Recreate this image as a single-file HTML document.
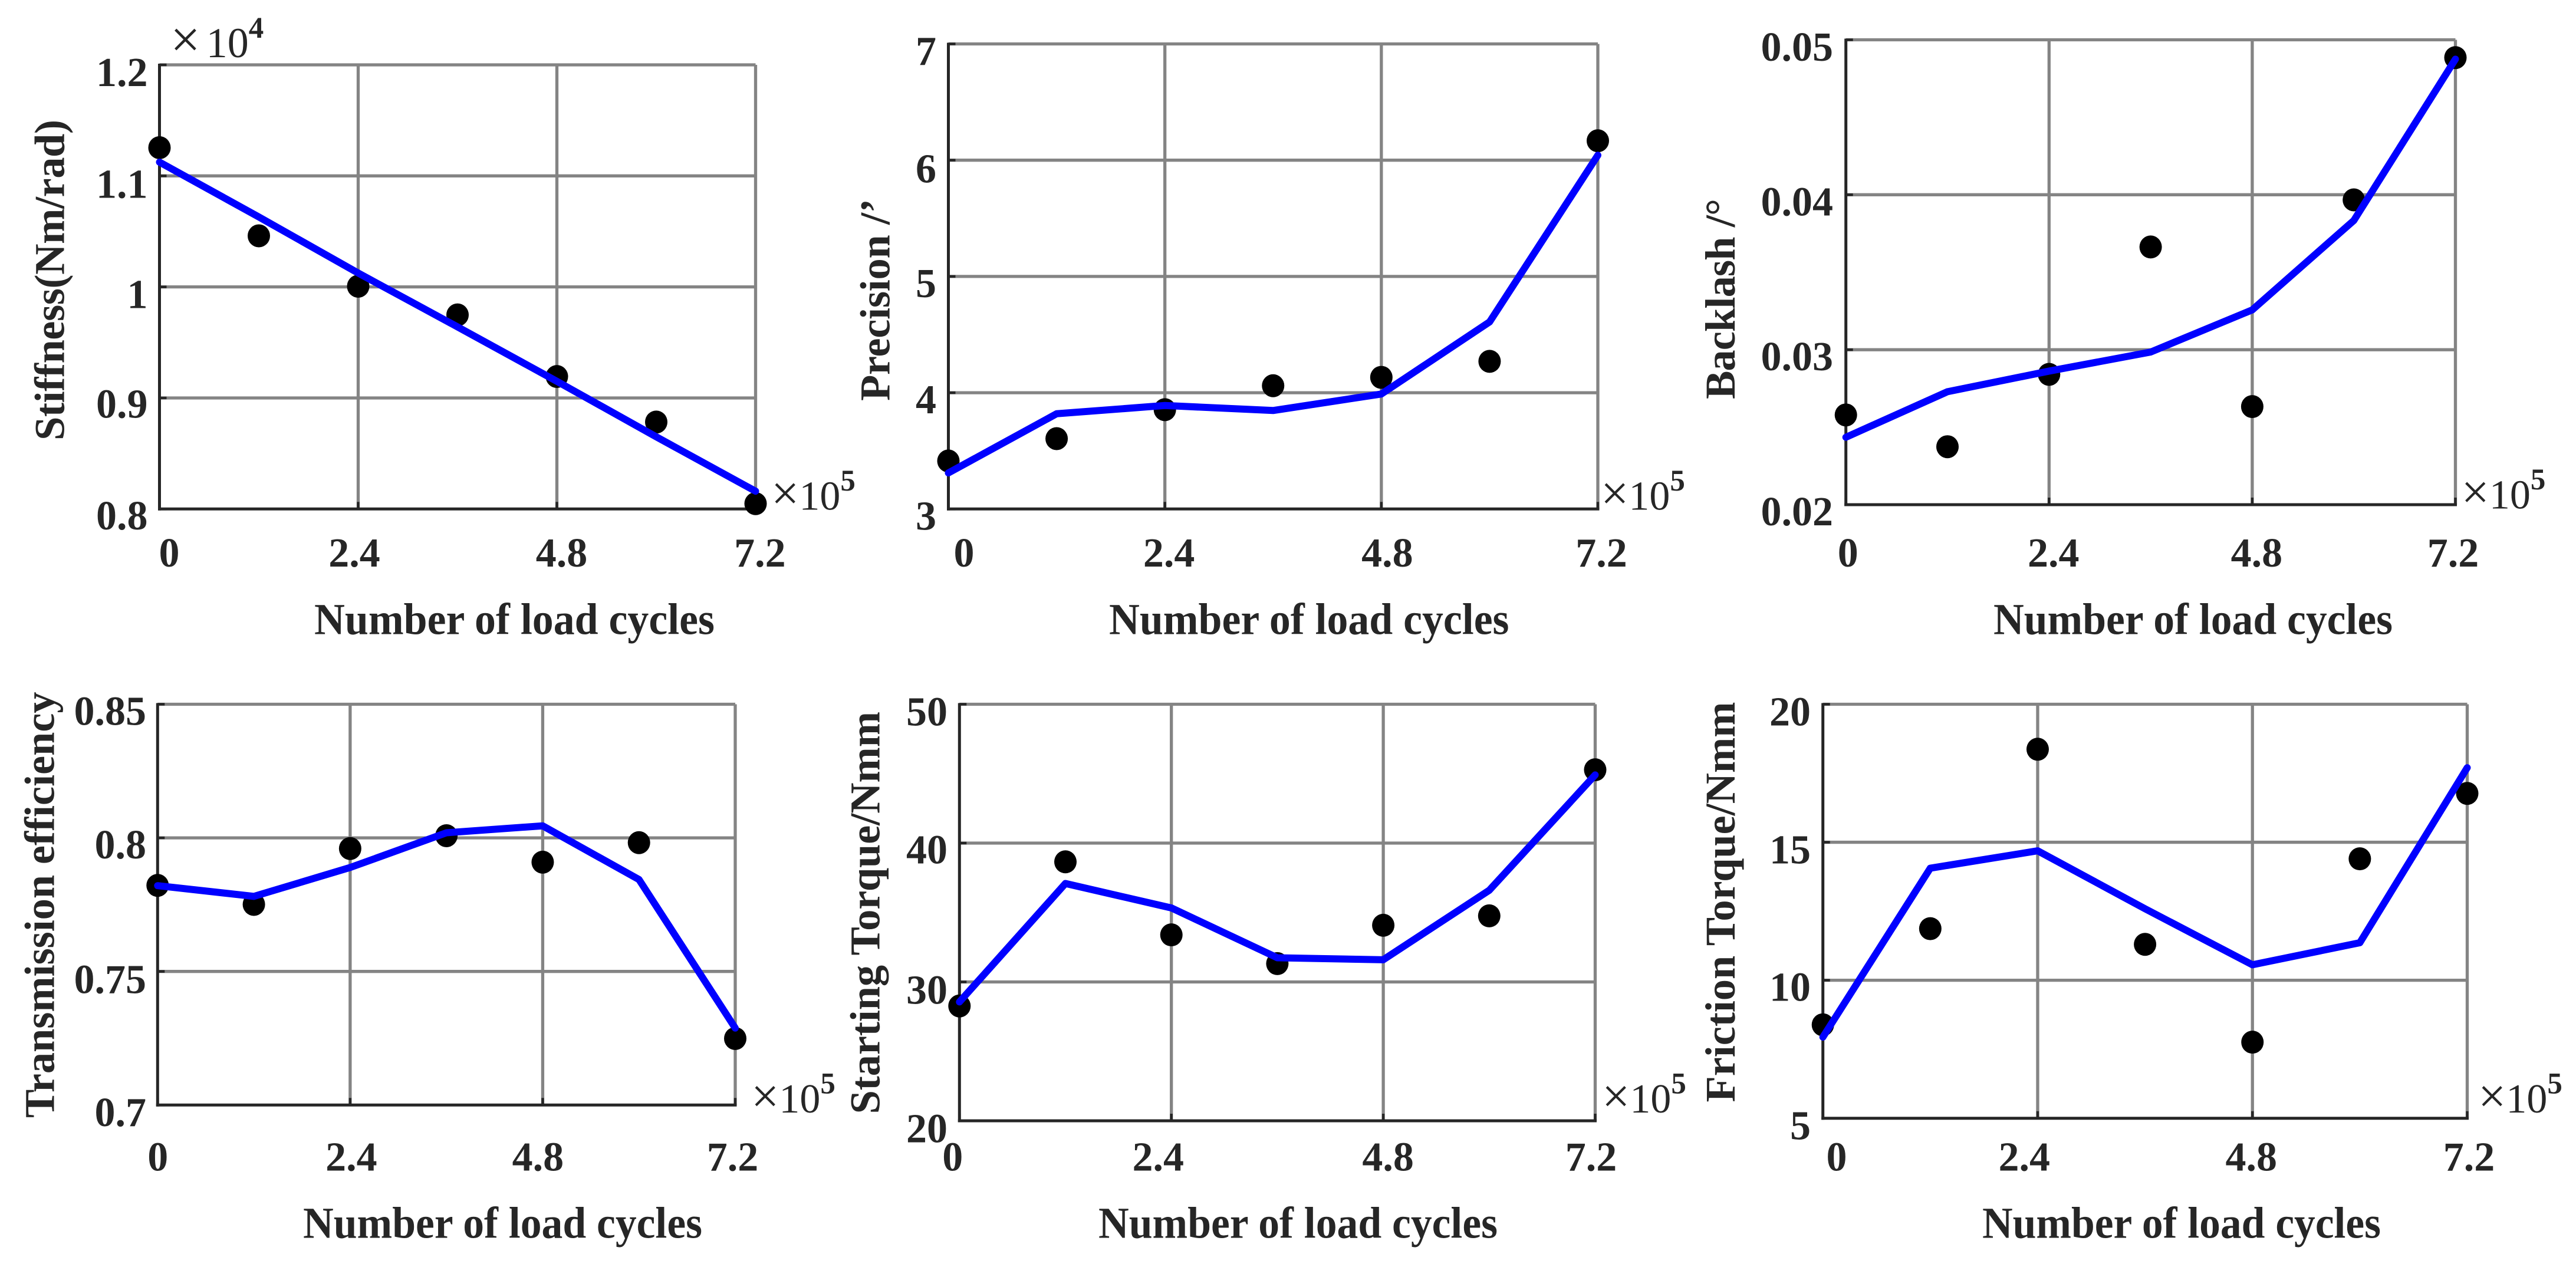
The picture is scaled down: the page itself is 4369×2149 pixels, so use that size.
<!DOCTYPE html>
<html lang="en">
<head>
<meta charset="utf-8">
<title>Performance degradation versus number of load cycles</title>
<style>
  html, body { margin: 0; padding: 0; background: #fff; }
  svg { display: block; }
  text { font-family: "Liberation Serif", serif; fill: #262626; }
  .bold { font-weight: bold; }
</style>
</head>
<body>
<svg id="chart" xmlns="http://www.w3.org/2000/svg" width="4369" height="2149" viewBox="0 0 4369 2149"></svg>
<script>
// ---- shared data (x axis in units of 10^5 cycles) ----
const cycles = [0, 1.2, 2.4, 3.6, 4.8, 6, 7.2];
const xTicks = [0, 2.4, 4.8, 7.2];
const xTickLabels = ['0', '2.4', '4.8', '7.2'];

// ---- per-chart measured points, fitted curves and ticks ----
const stiffnessPoints = [1.1254, 1.046, 1.0006, 0.9748, 0.9193, 0.8783, 0.8048];
const stiffnessFit = [1.1124, 1.063, 1.0125, 0.964, 0.915, 0.865, 0.816];
const stiffnessTicks = [0.8, 0.9, 1, 1.1, 1.2];
const stiffnessTickLabels = ['0.8', '0.9', '1', '1.1', '1.2'];

const precisionPoints = [3.413, 3.605, 3.854, 4.06, 4.132, 4.27, 6.167];
const precisionFit = [3.31, 3.819, 3.89, 3.847, 3.989, 4.609, 6.043];
const precisionTicks = [3, 4, 5, 6, 7];
const precisionTickLabels = ['3', '4', '5', '6', '7'];

const backlashPoints = [0.02579, 0.02374, 0.02841, 0.03663, 0.02633, 0.03967, 0.04885];
const backlashFit = [0.02435, 0.02729, 0.02862, 0.02985, 0.03257, 0.03834, 0.04875];
const backlashTicks = [0.02, 0.03, 0.04, 0.05];
const backlashTickLabels = ['0.02', '0.03', '0.04', '0.05'];

const efficiencyPoints = [0.7822, 0.7751, 0.796, 0.8008, 0.7909, 0.7982, 0.7249];
const efficiencyFit = [0.7821, 0.7781, 0.7889, 0.8019, 0.8045, 0.7844, 0.7288];
const efficiencyTicks = [0.7, 0.75, 0.8, 0.85];
const efficiencyTickLabels = ['0.7', '0.75', '0.8', '0.85'];

const startingPoints = [28.27, 38.65, 33.39, 31.32, 34.08, 34.76, 45.28];
const startingFit = [28.56, 37.09, 35.33, 31.74, 31.6, 36.6, 44.91];
const startingTicks = [20, 30, 40, 50];
const startingTickLabels = ['20', '30', '40', '50'];

const frictionPoints = [8.386, 11.87, 18.37, 11.3, 7.757, 14.4, 16.77];
const frictionFit = [7.94, 14.06, 14.69, 12.59, 10.56, 11.36, 17.7];
const frictionTicks = [5, 10, 15, 20];
const frictionTickLabels = ['5', '10', '15', '20'];

// ---- panel definitions: data references plus page layout ----
const panels = [
  { key: 'stiffness', title: 'Stiffness(Nm/rad)', points: stiffnessPoints, fit: stiffnessFit,
    yTicks: stiffnessTicks, yLabels: stiffnessTickLabels,
    box: { l: 270.5, r: 1281.5, t: 110, b: 863.3 },
    yTitle: { x: 108.5, top: 203, bottom: 747 },
    xTitle: { left: 533, right: 1212, y: 1075.5 },
    xNudge: [16.5, -6.5, 8, 7.4], xBase: 961, yRight: 250.5, yNudge: [34.5, 33.5, 36, 37, 36],
    power: { x: 1308, y: 864.5 } },
  { key: 'precision', title: 'Precision /\u2019', points: precisionPoints, fit: precisionFit,
    yTicks: precisionTicks, yLabels: precisionTickLabels,
    box: { l: 1608.5, r: 2710, t: 74.5, b: 863.3 },
    yTitle: { x: 1508.5, top: 337, bottom: 680 },
    xTitle: { left: 1881, right: 2559.5, y: 1075.5 },
    xNudge: [26.5, 7, 10, 6], xBase: 961, yRight: 1588, yNudge: [35, 35, 35, 38, 35.5],
    power: { x: 2715, y: 864.5 } },
  { key: 'backlash', title: 'Backlash /\u00b0', points: backlashPoints, fit: backlashFit,
    yTicks: backlashTicks, yLabels: backlashTickLabels,
    box: { l: 3130.7, r: 4164.5, t: 67.5, b: 856 },
    yTitle: { x: 2942, top: 337, bottom: 677 },
    xTitle: { left: 3381, right: 4058, y: 1075.5 },
    xNudge: [3.5, 7.5, 7.5, -4], xBase: 961, yRight: 3109, yNudge: [35, 35, 35, 35.5],
    power: { x: 4174.5, y: 862.5 } },
  { key: 'efficiency', title: 'Transmission efficiency', points: efficiencyPoints, fit: efficiencyFit,
    yTicks: efficiencyTicks, yLabels: efficiencyTickLabels,
    box: { l: 267.3, r: 1247, t: 1194.5, b: 1874.3 },
    yTitle: { x: 91.5, top: 1173.5, bottom: 1896 },
    xTitle: { left: 514, right: 1191, y: 2099.5 },
    xNudge: [0.5, 2, -8, -4.5], xBase: 1985.5, yRight: 248, yNudge: [35.7, 37, 35, 35],
    power: { x: 1274, y: 1887 } },
  { key: 'starting-torque', title: 'Starting Torque/Nmm', points: startingPoints, fit: startingFit,
    yTicks: startingTicks, yLabels: startingTickLabels,
    box: { l: 1627.3, r: 2705.5, t: 1194.5, b: 1901 },
    yTitle: { x: 1491.5, top: 1207, bottom: 1889.5 },
    xTitle: { left: 1863, right: 2540, y: 2099.5 },
    xNudge: [-11.5, -22.5, 8, -7], xBase: 1985.5, yRight: 1607, yNudge: [36.5, 37, 34.3, 36],
    power: { x: 2717, y: 1887 } },
  { key: 'friction-torque', title: 'Friction Torque/Nmm', points: frictionPoints, fit: frictionFit,
    yTicks: frictionTicks, yLabels: frictionTickLabels,
    box: { l: 3091.7, r: 4184.5, t: 1194.5, b: 1896.7 },
    yTitle: { x: 2942, top: 1190.5, bottom: 1869.5 },
    xTitle: { left: 3362, right: 4038, y: 2099.5 },
    xNudge: [23.3, -22.7, -2, 3], xBase: 1985.5, yRight: 3071, yNudge: [35.8, 35, 36, 36],
    power: { x: 4203, y: 1887 } }
];

const SVGNS = 'http://www.w3.org/2000/svg';
const root = document.getElementById('chart');
const GRID = '#848484';
const AXIS = '#262626';
const BLUE = '#0000ff';

function mk(parent, tag, attrs, content) {
  const node = document.createElementNS(SVGNS, tag);
  for (const k in attrs) node.setAttribute(k, attrs[k]);
  if (content !== undefined) node.textContent = content;
  parent.appendChild(node);
  return node;
}

function drawPanel(p) {
  const xMin = 0, xMax = 7.2;
  const yMin = p.yTicks[0], yMax = p.yTicks[p.yTicks.length - 1];
  const sx = v => p.box.l + (v - xMin) / (xMax - xMin) * (p.box.r - p.box.l);
  const sy = v => p.box.b - (v - yMin) / (yMax - yMin) * (p.box.b - p.box.t);
  let el;

  const g = mk(root, 'g', {});
  
  

  // horizontal gridlines, including the top frame edge
  p.yTicks.forEach(v => {
    if (v === yMin) return;
    el = mk(g, 'line', { x1: p.box.l, x2: p.box.r, y1: sy(v), y2: sy(v), stroke: GRID, 'stroke-width': 5.3 });
    
    
  });
  // vertical gridlines, including the right frame edge
  xTicks.forEach(v => {
    if (v === xMin) return;
    el = mk(g, 'line', { x1: sx(v), x2: sx(v), y1: p.box.t, y2: p.box.b, stroke: GRID, 'stroke-width': 5.3 });
    
    
  });

  // left and bottom axes
  el = mk(g, 'line', { x1: p.box.l, x2: p.box.l, y1: p.box.t - 2, y2: p.box.b + 2.5, stroke: AXIS, 'stroke-width': 5 });
  
  
  el = mk(g, 'line', { x1: p.box.l - 2.5, x2: p.box.r + 2.5, y1: p.box.b, y2: p.box.b, stroke: AXIS, 'stroke-width': 5 });
  
  

  // tick marks
  p.yTicks.forEach(v => {
    el = mk(g, 'line', { x1: p.box.l, x2: p.box.l + 12, y1: sy(v), y2: sy(v), stroke: AXIS, 'stroke-width': 4.5 });
    
    
  });
  xTicks.forEach(v => {
    el = mk(g, 'line', { x1: sx(v), x2: sx(v), y1: p.box.b, y2: p.box.b - 12, stroke: AXIS, 'stroke-width': 4.5 });
    
    
  });

  // measured points
  p.points.forEach((v, i) => {
    el = mk(g, 'ellipse', { cx: sx(cycles[i]), cy: sy(v), rx: 19, ry: 19.5, fill: '#000' });
    
    
  });

  // fitted curve
  el = mk(g, 'polyline', {
    points: p.fit.map((v, i) => sx(cycles[i]) + ',' + sy(v)).join(' '),
    fill: 'none', stroke: BLUE, 'stroke-width': 12, 'stroke-linejoin': 'round', 'stroke-linecap': 'round'
  });
  
  

  // y tick labels
  p.yTicks.forEach((v, i) => {
    el = mk(g, 'text', { x: p.yRight, y: sy(v) + p.yNudge[i], 'text-anchor': 'end', 'font-size': 70, class: 'bold' }, p.yLabels[i]);
    
    
  });
  // x tick labels
  xTicks.forEach((v, i) => {
    el = mk(g, 'text', { x: sx(v) + p.xNudge[i], y: p.xBase, 'text-anchor': 'middle', 'font-size': 70, class: 'bold' }, xTickLabels[i]);
    
    
  });

  // axis titles
  el = mk(g, 'text', { x: p.xTitle.left, y: p.xTitle.y, 'font-size': 75, class: 'bold',
    textLength: p.xTitle.right - p.xTitle.left, lengthAdjust: 'spacingAndGlyphs' }, 'Number of load cycles');
  
  

  el = mk(g, 'text', { x: 0, y: 0, 'font-size': 72.5, class: 'bold',
    transform: 'translate(' + p.yTitle.x + ',' + p.yTitle.bottom + ') rotate(-90)',
    textLength: p.yTitle.bottom - p.yTitle.top, lengthAdjust: 'spacing' }, p.title);
  
  

  // x-axis exponent
  el = mk(g, 'text', { x: p.power.x, y: p.power.y, 'font-size': 70 });
  
  
  mk(el, 'tspan', { 'font-size': 84 }, '\u00d7');
  mk(el, 'tspan', {}, '10');
  mk(el, 'tspan', { 'font-size': 51, dy: -32.5, class: 'bold' }, '5');
}

panels.forEach(drawPanel);

// y-axis exponent of the stiffness panel
const yExponent = mk(root, 'text', { x: 289, y: 97, 'font-size': 72 });


mk(yExponent, 'tspan', { 'font-size': 90 }, '\u00d7');
mk(yExponent, 'tspan', { dx: 10 }, '10');
mk(yExponent, 'tspan', { 'font-size': 51, dy: -33, class: 'bold' }, '4');
</script>
</body>
</html>
